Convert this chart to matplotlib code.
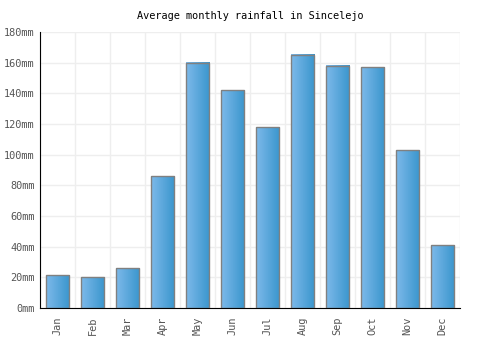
import numpy as np
import matplotlib.pyplot as plt
from matplotlib.colors import LinearSegmentedColormap

months = ['Jan', 'Feb', 'Mar', 'Apr', 'May', 'Jun', 'Jul', 'Aug', 'Sep', 'Oct', 'Nov', 'Dec']
rainfall = [21.5, 20, 26, 86, 160, 142, 118, 165, 158, 157, 103, 41]
yticks = [0, 20, 40, 60, 80, 100, 120, 140, 160, 180]

plt.rcParams['font.family'] = 'DejaVu Sans Mono'
fig = plt.figure(figsize=(5, 3.5), dpi=100)
ax = fig.add_axes([0.08, 0.12, 0.84, 0.7886])

x = np.arange(len(months))
w = 0.66
cmap = LinearSegmentedColormap.from_list('b', ['#7db9ea', '#3a96cd'])
grad = np.linspace(0, 1, 64).reshape(1, -1)
bars = ax.bar(x, rainfall, width=w, facecolor='none', edgecolor='#808080', linewidth=1, zorder=3)
for b in bars:
    ax.imshow(grad, cmap=cmap, aspect='auto', zorder=2,
              extent=[b.get_x(), b.get_x() + b.get_width(), 0, b.get_height()])

ax.set_xlim(-0.5, len(months) - 0.5)
ax.set_ylim(0, 180)
ax.set_xticks(x)
ax.set_xticklabels(months, rotation=90, fontsize=7.4, color='#555555')
ax.set_xticks(np.arange(len(months) + 1) - 0.5, minor=True)
ax.set_yticks(yticks)
ax.set_yticklabels([f'{v}mm' for v in yticks], fontsize=7.4, color='#555555')
ax.grid(True, which='minor', axis='x', color='#eeeeee', linewidth=1)
ax.grid(True, which='major', axis='y', color='#eeeeee', linewidth=1)
ax.tick_params(which='both', length=0)
ax.tick_params(axis='y', pad=4)
ax.tick_params(axis='x', pad=6)
ax.set_axisbelow(True)
for s in ['top', 'right']:
    ax.spines[s].set_visible(False)
ax.spines['left'].set_color('black')
ax.spines['bottom'].set_color('black')
ax.set_title('Average monthly rainfall in Sincelejo', fontsize=7.4, pad=9)

fig.savefig('out.png')
